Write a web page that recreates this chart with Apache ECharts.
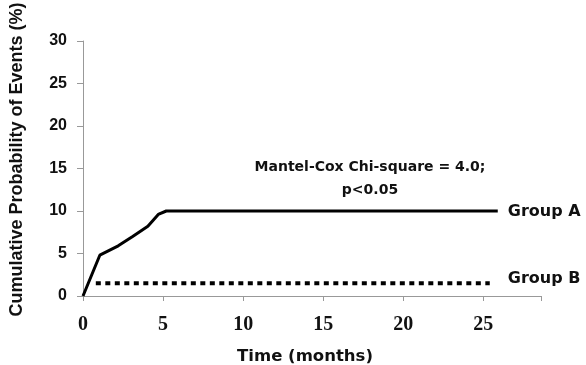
<!DOCTYPE html>
<html>
<head>
<meta charset="utf-8">
<script src="https://cdn.jsdelivr.net/npm/echarts@6/dist/echarts.min.js"></script>
<style>
html,body{margin:0;padding:0;background:#fff;}
#c{width:586px;height:365px;}
</style>
</head>
<body>
<div id="c"></div>
<script>
// Data
const groupA_months = [0, 1.05, 2.2, 3.1, 4.05, 4.7, 5.2, 25.9];
const groupA_values = [0, 4.8, 5.9, 7.0, 8.2, 9.6, 10.0, 10.0];
const groupB_months = [0.8, 25.4];
const groupB_values = [1.5, 1.5];
const xTicks = [0, 5, 10, 15, 20, 25];
const yTicks = [0, 5, 10, 15, 20, 25, 30];
const seriesNames = ['Group A', 'Group B'];
const annotationLines = ['Mantel-Cox Chi-square = 4.0;', 'p<0.05'];

const pairs = (xs, ys) => xs.map((x, i) => [x, ys[i]]);
const chart = echarts.init(document.getElementById('c'));
chart.setOption({
  animation: false,
  backgroundColor: '#fff',
  grid: {left: 83, right: 45, top: 41, bottom: 69, containLabel: false, outerBoundsMode: 'none'},
  xAxis: {
    type: 'value', min: 0, max: 28.6, interval: 5,
    name: 'Time (months)', nameLocation: 'middle', nameGap: 52,
    nameTextStyle: {fontFamily: 'DejaVu Sans', fontWeight: 'bold', fontSize: 16.5, color: '#111',
      padding: [0, 14, 0, 0]},
    axisLine: {lineStyle: {color: '#999', width: 1}},
    axisTick: {show: true, length: 5, lineStyle: {color: '#999'}},
    splitLine: {show: false},
    axisLabel: {
      margin: 19, fontFamily: 'Liberation Serif', fontWeight: 'bold', fontSize: 20, color: '#111',
      formatter: v => xTicks.includes(v) ? String(v) : ''
    }
  },
  yAxis: {
    type: 'value', min: 0, max: 30, interval: 5,
    name: 'Cumulative Probability of Events (%)', nameLocation: 'middle', nameGap: 57,
    nameTextStyle: {fontFamily: 'Liberation Sans', fontWeight: 'bold', fontSize: 18, color: '#111',
      padding: [0, 0, 0, 18]},
    axisLine: {show: true, lineStyle: {color: '#999', width: 1}},
    axisTick: {show: true, length: 6, lineStyle: {color: '#999'}},
    splitLine: {show: false},
    axisLabel: {
      margin: 16, fontFamily: 'Liberation Sans', fontWeight: 'bold', fontSize: 16, color: '#111',
      formatter: v => yTicks.includes(v) ? String(v) : ''
    }
  },
  graphic: [{
    type: 'text', x: 370, y: 156,
    style: {
      text: annotationLines.join('\n'), textAlign: 'center', lineHeight: 23,
      font: 'bold 14px "DejaVu Sans"', fill: '#111'
    }
  }],
  series: [{
    name: seriesNames[0], type: 'line', data: pairs(groupA_months, groupA_values),
    showSymbol: false, symbol: 'none',
    lineStyle: {color: '#000', width: 3},
    endLabel: {show: true, formatter: seriesNames[0], distance: 10, color: '#111', offset: [0, 1],
      fontFamily: 'DejaVu Sans', fontWeight: 'bold', fontSize: 16}
  }, {
    name: seriesNames[1], type: 'line', data: pairs(groupB_months, groupB_values),
    showSymbol: false, symbol: 'none',
    lineStyle: {color: '#000', width: 4, type: [5, 4.5], cap: 'butt'},
    endLabel: {show: true, formatter: seriesNames[1], distance: 18, color: '#111', offset: [0, -4],
      fontFamily: 'DejaVu Sans', fontWeight: 'bold', fontSize: 16}
  }]
});
</script>
</body>
</html>
